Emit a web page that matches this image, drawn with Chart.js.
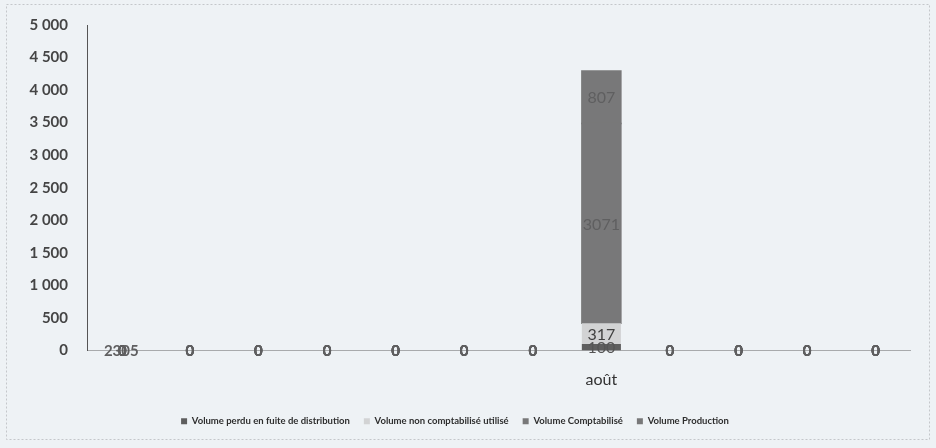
<!DOCTYPE html>
<html>
<head>
<meta charset="utf-8">
<script src="https://cdn.jsdelivr.net/npm/chart.js@4.4.1/dist/chart.umd.min.js"></script>
<style>
  html, body { margin: 0; padding: 0; background: #eef2f5; }
  #wrap { width: 936px; height: 448px; position: relative; }
</style>
</head>
<body>
<div id="wrap"><canvas id="canvas" width="936" height="448"></canvas></div>
<script>
const months = ["janv.", "févr.", "mars", "avr.", "mai", "juin", "juil.", "août", "sept.", "oct.", "nov.", "déc."];
const shownMonths = ["août"];

const volPerdu = [0, 0, 0, 0, 0, 0, 0, 100, 0, 0, 0, 0];
const volNonCompta = [0, 0, 0, 0, 0, 0, 0, 317, 0, 0, 0, 0];
const volCompta = [0, 0, 0, 0, 0, 0, 0, 3071, 0, 0, 0, 0];
const volProduction = [0, 0, 0, 0, 0, 0, 0, 807, 0, 0, 0, 0];

// the first month carries a label with no visible bar
const janLabel = "2305";

const yTicks = [0, 500, 1000, 1500, 2000, 2500, 3000, 3500, 4000, 4500, 5000];

const fmt = (v) => v >= 1000 ? Math.floor(v / 1000) + "\u202F" + String(v % 1000).padStart(3, "0") : String(v);

const frame = {
    id: "frame",
    beforeDraw(chart) {
        const ctx = chart.ctx;
        ctx.save();
        ctx.fillStyle = "#eef2f5";
        ctx.fillRect(0, 0, chart.width, chart.height);
        ctx.strokeStyle = "#c4c7ca";
        ctx.setLineDash([2, 2]);
        ctx.lineWidth = 1;
        ctx.strokeRect(6.5, 4.5, 923, 435);
        ctx.restore();
    }
};

const segLabels = {
    id: "segLabels",
    afterDatasetsDraw(chart) {
        const ctx = chart.ctx;
        ctx.save();
        ctx.textAlign = "center";
        ctx.textBaseline = "middle";
        chart.data.datasets.forEach((ds, di) => {
            const meta = chart.getDatasetMeta(di);
            meta.data.forEach((el, i) => {
                let txt = String(ds.data[i]);
                if (i === 0 && di === 3) txt = janLabel;
                const y = (el.y + el.base) / 2;
                const x = (i === 0 && di !== 3) ? el.x + 1 : el.x;
                ctx.font = ds.data[i] === 0 ? "bold 15px Lato" : "16px Lato";
                ctx.fillStyle = ds.labelColor;
                ctx.fillText(txt, x, y + 1);
            });
        });
        ctx.restore();
    }
};

const inflateNonZero = (c) => (c.raw > 0 ? 0.7 : 0);

const config = {
    type: "bar",
    data: {
        labels: months,
        datasets: [
            { label: "Volume perdu en fuite de distribution", data: volPerdu, backgroundColor: "#5e5e5e", labelColor: "#555555", inflateAmount: 0 },
            { label: "Volume non comptabilisé utilisé", data: volNonCompta, backgroundColor: "#d2d3d4", borderColor: "#b0b0b0", labelColor: "#404040", inflateAmount: 0 },
            { label: "Volume Comptabilisé", data: volCompta, backgroundColor: "#787879", labelColor: "#5f5f60", inflateAmount: inflateNonZero },
            { label: "Volume Production", data: volProduction, backgroundColor: "#787879", labelColor: "#5f5f60", inflateAmount: inflateNonZero }
        ]
    },
    options: {
        responsive: false,
        animation: false,
        barPercentage: 0.57,
        categoryPercentage: 1,
        layout: { padding: { left: 0, right: 26, top: 25, bottom: 12 } },
        scales: {
            x: {
                stacked: true,
                grid: { display: false, drawTicks: false },
                border: { display: true, color: "#a8aaac", dash: [2, 2] },
                ticks: {
                    padding: 20,
                    autoSkip: false,
                    maxRotation: 0,
                    color: "#333",
                    font: { family: "Lato", size: 16 },
                    callback: (v, i) => shownMonths.includes(months[i]) ? months[i] : ""
                },
                afterFit: (s) => { s.height = 52; }
            },
            y: {
                stacked: true,
                min: 0,
                max: 5000,
                grid: { display: false, drawTicks: false },
                border: { display: true, color: "#555" },
                afterBuildTicks: (s) => { s.ticks = yTicks.map((v) => ({ value: v })); },
                ticks: {
                    padding: 19,
                    color: "#454545",
                    font: { family: "Lato", size: 15, weight: "bold" },
                    callback: (v) => fmt(v)
                },
                afterFit: (s) => { s.width = 87; s.paddingTop = 0; s.paddingBottom = 0; }
            }
        },
        plugins: {
            legend: {
                position: "bottom",
                labels: {
                    boxWidth: 6,
                    boxHeight: 6,
                    padding: 14,
                    color: "#2e2e2e",
                    font: { family: "Lato", size: 9.5, weight: "bold" }
                }
            },
            tooltip: { enabled: false }
        }
    },
    plugins: [frame, segLabels]
};

new Chart(document.getElementById("canvas"), config);
</script>
</body>
</html>
